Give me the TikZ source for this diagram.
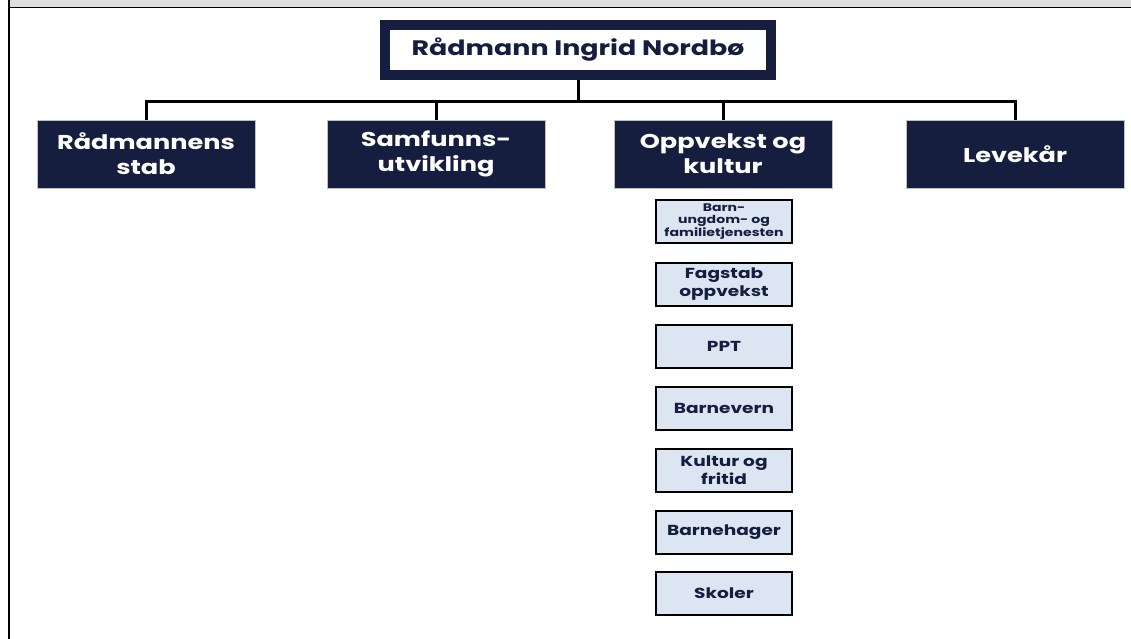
\documentclass[tikz,border=0pt]{standalone}
\usepackage{fontspec}
\setmainfont{Poppins}[FakeStretch=1.28]
\definecolor{navy}{HTML}{161E3F}
\definecolor{paleblue}{HTML}{DCE6F2}
\definecolor{bandgray}{HTML}{DEDEDE}

\begin{document}
\begin{tikzpicture}[x=1pt,y=-1pt,
  chief/.style={draw=navy,line width=10pt,fill=white,minimum width=386pt,minimum height=50pt,inner sep=0pt,text=navy,font=\bfseries\fontsize{21}{25}\selectfont},
  unit/.style={fill=navy,draw=gray!50,line width=0.6pt,minimum width=218pt,minimum height=68pt,inner sep=0pt,text=white,align=center,font=\bfseries\fontsize{20}{25}\selectfont},
  sub/.style={fill=paleblue,draw=black,line width=2pt,minimum width=136pt,minimum height=43pt,inner sep=0pt,text=navy,align=center,font=\bfseries\fontsize{14.5}{18}\selectfont},
  link/.style={line width=3pt,black}]
\useasboundingbox (0,0) rectangle (1131,639);
% frame of the page
\fill[bandgray] (10,0) rectangle (1131,7);
\draw[line width=1.6pt] (9,7.5) -- (1131,7.5);
\draw[line width=2.4pt] (9,0) -- (9,639);
% end of frame
% top box
\node[chief] (chief) at (578,50) {Rådmann Ingrid Nordbø};
\coordinate (bus) at (578,102);
% four areas
\node[unit] (stab) at (146,154) {Rådmannens\\stab};
\node[unit] (samf) at (436,154) {Samfunns-\\utvikling};
\node[unit] (oppv) at (723,154) {Oppvekst og\\kultur};
\node[unit] (leve) at (1015,154) {Levekår};
% drawing the lines
\draw[link] (chief.south) -- (bus);
\draw[link] (bus) -| (stab.north);
\draw[link] (bus) -| (samf.north);
\draw[link] (bus) -| (oppv.north);
\draw[link] (bus) -| (leve.north);
% end of lines
% services under oppvekst
\node[sub,font=\bfseries\fontsize{11}{12.5}\selectfont] (bufet) at (724,221.5) {Barn-\\ungdom- og\\familietjenesten};
\node[sub] (fagstab) at (724,284) {Fagstab\\oppvekst};
\node[sub] (ppt) at (724,346.5) {PPT};
\node[sub] (barnevern) at (724,408.5) {Barnevern};
\node[sub] (kultur) at (724,470.5) {Kultur og\\fritid};
\node[sub] (barnehager) at (724,532.5) {Barnehager};
\node[sub] (skoler) at (724,593) {Skoler};
\end{tikzpicture}
\end{document}
